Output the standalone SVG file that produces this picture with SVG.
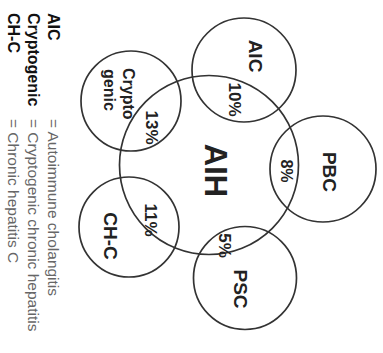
<svg xmlns="http://www.w3.org/2000/svg" width="383" height="353" viewBox="0 0 383 353">
<style>
.c{fill:none;stroke:#333;stroke-width:1.7}
.l{font-family:"Liberation Sans",Arial,sans-serif;font-weight:bold;fill:#222}
.lb{font-size:19px;text-anchor:middle}
.pc{font-size:17px;text-anchor:middle}
.lg{font-family:"Liberation Sans",Arial,sans-serif;font-size:15.5px}
.k{font-weight:bold;fill:#111;font-size:16px}
.d{fill:#666}
</style>
<rect width="383" height="353" fill="#fff"/>
<g id="connectors"/>
<g id="AIH">
<circle class="c" cx="209" cy="165" r="89.5"/>
<text class="l" font-size="31" text-anchor="middle" transform="translate(204.5,170.5) rotate(90)">AIH</text>
</g>
<g id="AIC">
<circle class="c" cx="244" cy="70" r="52"/>
<text class="l lb" transform="translate(249.2,56) rotate(90)">AIC</text>
<text class="l pc" transform="translate(229.4,99.5) rotate(90)">10%</text>
</g>
<g id="Cryptogenic">
<circle class="c" cx="131" cy="101" r="50"/>
<text class="l" font-size="16" transform="translate(122.5,68) rotate(90)">Crypto</text>
<text class="l" font-size="16" transform="translate(104,69) rotate(90)">genic</text>
<text class="l pc" transform="translate(145.9,127.5) rotate(90)">13%</text>
</g>
<g id="PBC">
<circle class="c" cx="323" cy="169" r="53"/>
<text class="l lb" transform="translate(322.7,172) rotate(90)">PBC</text>
<text class="l" font-size="16" text-anchor="middle" transform="translate(280.5,171) rotate(90)">8%</text>
</g>
<g id="PSC">
<circle class="c" cx="245" cy="278" r="51.5"/>
<text class="l lb" transform="translate(233.7,289) rotate(90)">PSC</text>
<text class="l pc" transform="translate(219,245.5) rotate(90)">5%</text>
</g>
<g id="CH-C">
<circle class="c" cx="129" cy="227" r="50"/>
<text class="l lb" transform="translate(104.2,236) rotate(90)">CH-C</text>
<text class="l pc" transform="translate(145,220) rotate(90)">11%</text>
</g>
<g id="legend" class="lg">
<text class="k" transform="translate(47.5,13) rotate(90)">AIC</text>
<text class="k" transform="translate(27.5,13) rotate(90)">Cryptogenic</text>
<text class="k" transform="translate(8,13) rotate(90)">CH-C</text>
<text class="d" transform="translate(47.5,119) rotate(90)">= Autoimmune cholangitis</text>
<text class="d" transform="translate(27.5,119) rotate(90)">= Cryptogenic chronic hepatitis</text>
<text class="d" transform="translate(8,119) rotate(90)">= Chronic hepatitis C</text>
</g>
</svg>
